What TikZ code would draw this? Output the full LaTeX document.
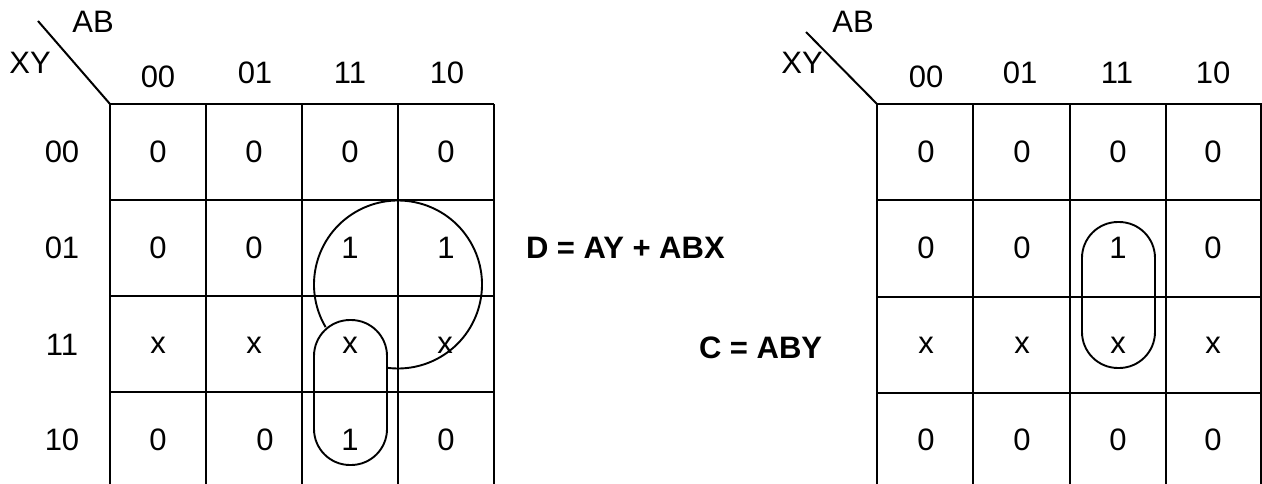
\documentclass[tikz,border=0pt]{standalone}
\usepackage{fontspec}
\setmainfont{Liberation Sans}
\usetikzlibrary{calc}
\begin{document}
\begin{tikzpicture}[x=1pt,y=-1pt,line width=2pt,
  lbl/.style={font=\fontsize{31}{31}\selectfont,inner sep=0pt,anchor=center},
  eqn/.style={font=\fontsize{31}{31}\selectfont\bfseries,inner sep=0pt,anchor=west},
  grp/.style={line width=1.9pt,rounded corners=36pt}]
\useasboundingbox (0,0) rectangle (1262,484);

% ---------- left map: grid ----------
\foreach \k in {0,...,4}{
  \coordinate (Lt\k) at (110+96*\k,104);
  \coordinate (Lb\k) at (110+96*\k,490);
  \draw (Lt\k) -- (Lb\k);
}
\foreach \k in {0,...,3}{
  \coordinate (Ll\k) at (110,104+96*\k);
  \coordinate (Lr\k) at (494,104+96*\k);
  \draw (Ll\k) -- (Lr\k);
}
\coordinate (Ld) at (38,21);
\draw (Ld) -- (Lt0);
\node[lbl] (LAB) at (93,22) {AB};
\node[lbl] (LXY) at (30,63) {XY};

% column and row headings
\node[lbl] (Lc0) at (158,77) {00};
\node[lbl] (Lc1) at (255,73) {01};
\node[lbl] (Lc2) at (350,73) {11};
\node[lbl] (Lc3) at (447,73) {10};
\node[lbl] (Lh0) at (62,152) {00};
\node[lbl] (Lh1) at (62,248) {01};
\node[lbl] (Lh2) at (62,345) {11};
\node[lbl] (Lh3) at (62,440) {10};

% cell entries
\node[lbl] (L00) at (158,152) {0};
\node[lbl] (L01) at (254,152) {0};
\node[lbl] (L02) at (350,152) {0};
\node[lbl] (L03) at (446,152) {0};
\node[lbl] (L10) at (158,248) {0};
\node[lbl] (L11) at (254,248) {0};
\node[lbl] (L12) at (350,248) {1};
\node[lbl] (L13) at (446,248) {1};
\node[lbl] (L20) at (158,345) {x};
\node[lbl] (L21) at (254,345) {x};
\node[lbl] (L22) at (350,345) {x};
\node[lbl] (L23) at (445,345) {x};
\node[lbl] (L30) at (158,440) {0};
\node[lbl] (L31) at (265,440) {0};
\node[lbl] (L32) at (350,440) {1};
\node[lbl] (L33) at (446,440) {0};

% groupings
\coordinate (Lcc) at (398,284.5);
\draw[line width=1.9pt] ($(Lcc)+(149.5:84)$) arc[start angle=149.5,end angle=457.5,radius=84];
\draw[grp] (314,320) rectangle (387,465);

% ---------- equations ----------
\node[eqn] (eqD) at (525,248) {D = AY + ABX};
\node[eqn] (eqC) at (698,348) {C = ABY};

% ---------- right map: grid ----------
\foreach \k in {0,...,3}{
  \coordinate (Rt\k) at (877+96.3*\k,104);
  \coordinate (Rb\k) at (877+96.3*\k,490);
  \draw (Rt\k) -- (Rb\k);
}
\coordinate (Rt4) at (1260.6,104);
\coordinate (Rb4) at (1260.6,490);
\draw (Rt4) -- (Rb4);
\foreach \k in {0,...,3}{
  \coordinate (Rl\k) at (877,104+96.3*\k);
  \coordinate (Rr\k) at (1262,104+96.3*\k);
  \draw (Rl\k) -- (Rr\k);
}
\coordinate (Rd) at (806,32);
\draw (Rd) -- (Rt0);
\node[lbl] (RAB) at (853,22) {AB};
\node[lbl] (RXY) at (802,63) {XY};

\node[lbl] (Rc0) at (926,77) {00};
\node[lbl] (Rc1) at (1020,73) {01};
\node[lbl] (Rc2) at (1117,73) {11};
\node[lbl] (Rc3) at (1213,73) {10};

\node[lbl] (R00) at (926,152) {0};
\node[lbl] (R01) at (1022,152) {0};
\node[lbl] (R02) at (1118,152) {0};
\node[lbl] (R03) at (1213,152) {0};
\node[lbl] (R10) at (926,248) {0};
\node[lbl] (R11) at (1022,248) {0};
\node[lbl] (R12) at (1118,248) {1};
\node[lbl] (R13) at (1213,248) {0};
\node[lbl] (R20) at (926,345) {x};
\node[lbl] (R21) at (1022,345) {x};
\node[lbl] (R22) at (1118,345) {x};
\node[lbl] (R23) at (1213,345) {x};
\node[lbl] (R30) at (926,440) {0};
\node[lbl] (R31) at (1022,440) {0};
\node[lbl] (R32) at (1118,440) {0};
\node[lbl] (R33) at (1213,440) {0};

\draw[grp] (1082,222) rectangle (1155,368);
\end{tikzpicture}
\end{document}
